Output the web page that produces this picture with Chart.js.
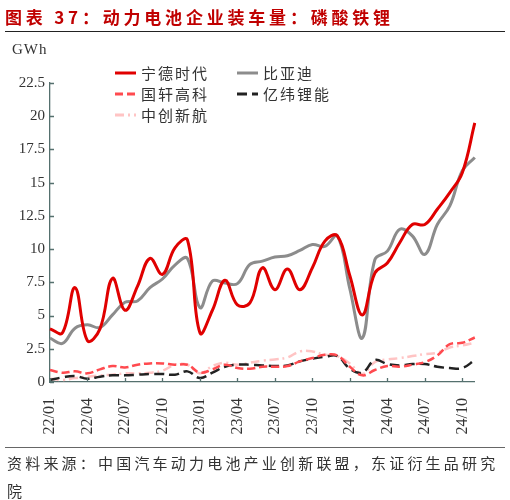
<!DOCTYPE html>
<html>
<head>
<meta charset="utf-8">
<script src="https://cdn.jsdelivr.net/npm/chart.js@4.4.1/dist/chart.umd.min.js"></script>
<style>
  body { margin: 0; background: #fff; width: 510px; height: 500px; overflow: hidden; position: relative; }
  #chart { position: absolute; left: 0; top: 0; }
  .title { position: absolute; left: 5px; top: 4px; font: bold 17px "Noto Sans CJK SC"; color: #C00000; letter-spacing: 3.8px; white-space: nowrap; }
  .rule { position: absolute; left: 5px; width: 500px; height: 1px; background: #222; }
  .unit { position: absolute; left: 12px; top: 41px; font: 15px "Liberation Serif"; color: #333; letter-spacing: 1px; }
  .legend { position: absolute; font: 15px "Noto Sans CJK SC"; color: #333; letter-spacing: 2px; }
  .legend div { position: absolute; white-space: nowrap; display: flex; align-items: center; }
  .legend svg { margin-right: 5px; }
  .source { position: absolute; left: 7px; top: 449px; width: 500px; font: 15px "Noto Sans CJK SC"; color: #333; letter-spacing: 3.2px; line-height: 28px; }
</style>
</head>
<body>
<canvas id="chart" width="510" height="500"></canvas>
<div class="title">图表 37：动力电池企业装车量：磷酸铁锂</div>
<div class="rule" style="top:31px"></div>
<div class="unit">GWh</div>
<div class="legend" id="legend"></div>
<div class="rule" style="top:447px;background:#666"></div>
<div class="source">资料来源：中国汽车动力电池产业创新联盟，东证衍生品研究院</div>
<script>
// months 22/01 .. 24/11
const months = [
  '22/01','22/02','22/03','22/04','22/05','22/06','22/07','22/08','22/09','22/10','22/11','22/12',
  '23/01','23/02','23/03','23/04','23/05','23/06','23/07','23/08','23/09','23/10','23/11','23/12',
  '24/01','24/02','24/03','24/04','24/05','24/06','24/07','24/08','24/09','24/10','24/11'
];

const catl = [4.0, 3.7, 7.1, 3.1, 4.0, 7.8, 5.4, 7.2, 9.3, 8.1, 10.1, 10.7,
  3.7, 5.4, 7.65, 5.8, 5.95, 8.6, 6.95, 8.5, 6.95, 8.6, 10.6, 11.0,
  8.0, 5.05, 8.2, 8.95, 10.5, 11.85, 11.85, 13.0, 14.25, 15.75, 19.5];
const byd = [3.3, 2.9, 4.05, 4.3, 4.1, 5.05, 6.0, 6.1, 7.1, 7.75, 8.8, 9.3,
  5.6, 7.6, 7.45, 7.4, 8.85, 9.1, 9.4, 9.5, 9.9, 10.35, 10.2, 11.0,
  7.0, 3.3, 9.2, 9.85, 11.5, 11.0, 9.6, 11.85, 13.25, 15.9, 16.9];
const gotion = [0.9, 0.7, 0.8, 0.65, 0.95, 1.2, 1.1, 1.3, 1.4, 1.4, 1.3, 1.3,
  0.7, 0.95, 1.3, 1.05, 1.0, 1.15, 1.15, 1.2, 1.55, 1.8, 2.05, 2.0,
  1.15, 0.5, 0.9, 1.2, 1.15, 1.3, 1.5, 2.0, 2.85, 2.95, 3.35];
const eve = [0.15, 0.35, 0.45, 0.25, 0.4, 0.5, 0.5, 0.55, 0.6, 0.6, 0.55, 0.8,
  0.3, 0.7, 1.15, 1.3, 1.3, 1.25, 1.2, 1.25, 1.55, 1.75, 1.9, 1.95,
  1.0, 0.7, 1.65, 1.35, 1.25, 1.35, 1.35, 1.15, 1.05, 1.05, 1.65];
const calb = [0.25, 0.15, 0.3, 0.4, 0.5, 0.55, 0.65, 0.65, 0.7, 0.85, 1.3, 1.3,
  0.65, 1.2, 1.45, 1.3, 1.45, 1.6, 1.7, 1.85, 2.3, 2.3, 2.05, 1.95,
  1.4, 0.6, 1.5, 1.7, 1.8, 1.95, 2.1, 2.2, 2.6, 2.75, 2.95];

const axisColor = '#55706e';

const series = [
  { label: '宁德时代', data: catl, color: '#E00000', width: 3, dash: [], pos: [115, 62] },
  { label: '比亚迪', data: byd, color: '#8C8C8C', width: 3, dash: [], pos: [237, 62] },
  { label: '国轩高科', data: gotion, color: '#FF4A4F', width: 2.5, dash: [8, 4], pos: [115, 83] },
  { label: '亿纬锂能', data: eve, color: '#222222', width: 2.5, dash: [10, 5], pos: [237, 83] },
  { label: '中创新航', data: calb, color: '#FFC4C4', width: 2.5, dash: [9, 4, 2, 4], pos: [115, 104] }
];

// legend (html, two columns inside the plot)
const legendBox = document.getElementById('legend');
series.forEach(s => {
  const item = document.createElement('div');
  item.style.left = s.pos[0] + 'px';
  item.style.top = s.pos[1] + 'px';
  const dash = s.dash.length ? s.dash.join(' ') : 'none';
  item.innerHTML = '<svg width="21" height="6"><line x1="0" y1="3" x2="21" y2="3" stroke="' + s.color +
    '" stroke-width="3" stroke-dasharray="' + dash + '"/></svg>' + s.label;
  legendBox.appendChild(item);
});

// inward tick marks on both axes
const tickMarks = {
  id: 'tickMarks',
  afterDraw(chart) {
    const ctx = chart.ctx;
    const x = chart.scales.x, y = chart.scales.y;
    ctx.save();
    ctx.strokeStyle = axisColor;
    ctx.lineWidth = 1.3;
    ctx.beginPath();
    y.ticks.forEach(t => {
      const py = Math.round(y.getPixelForValue(t.value)) + 0.5;
      ctx.moveTo(y.right, py);
      ctx.lineTo(y.right + 4, py);
    });
    months.forEach((m, i) => {
      if (i % 3 !== 0) return;
      const px = Math.round(x.getPixelForValue(i)) + 0.5;
      ctx.moveTo(px, x.top);
      ctx.lineTo(px, x.top - 4);
    });
    ctx.stroke();
    ctx.restore();
  }
};

new Chart(document.getElementById('chart'), {
  type: 'line',
  data: {
    labels: months,
    datasets: series.map(s => ({
      label: s.label,
      data: s.data,
      borderColor: s.color,
      borderWidth: s.width,
      borderDash: s.dash,
      pointRadius: 0,
      tension: 0.4,
      fill: false
    }))
  },
  options: {
    responsive: false,
    animation: false,
    layout: { padding: { top: 83, right: 19, left: 0, bottom: 0 } },
    plugins: { legend: { display: false }, tooltip: { enabled: false } },
    scales: {
      x: {
        afterFit: s => { s.height = 118; },
        grid: { display: true, drawOnChartArea: false, drawTicks: false },
        border: { color: axisColor, width: 1.3 },
        ticks: {
          autoSkip: false,
          maxRotation: 90,
          minRotation: 90,
          padding: 16,
          color: '#333',
          font: { family: 'Liberation Serif', size: 16 },
          callback: (v, i) => (i % 3 === 0 ? months[i] : '')
        }
      },
      y: {
        min: 0,
        max: 22.5,
        afterFit: s => { s.width = 50; },
        grid: { display: true, drawOnChartArea: false, drawTicks: false },
        border: { color: axisColor, width: 1.3 },
        ticks: {
          stepSize: 2.5,
          padding: 5,
          color: '#333',
          font: { family: 'Liberation Serif', size: 15 }
        }
      }
    }
  },
  plugins: [tickMarks]
});
</script>
</body>
</html>
